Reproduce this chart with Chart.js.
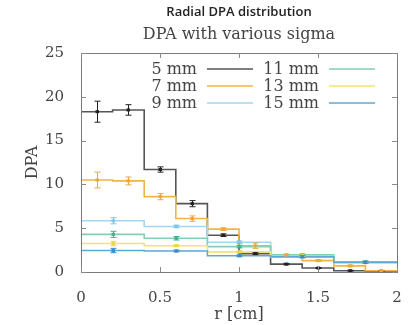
<!DOCTYPE html>
<html><head><meta charset="utf-8">
<script src="https://cdn.jsdelivr.net/npm/chart.js@4.4.1/dist/chart.umd.min.js"></script>
<style>html,body{margin:0;padding:0;background:#fff;}#wrap{width:408px;height:325px;}</style>
</head><body><div id="wrap"><canvas id="c" width="408" height="325"></canvas></div>
<script>
const chartTitle = 'Radial DPA distribution';
const chartSubtitle = 'DPA with various sigma';
const seriesNames = ['5 mm','7 mm','9 mm','11 mm','13 mm','15 mm'];
const binEdgesFine = [0,0.2,0.4,0.6,0.8,1.0,1.2,1.4,1.6,1.8,2.0];
const binEdgesCoarse = [0,0.4,0.8,1.2,1.6,2.0];
const dpa5 = [18.3,18.5,11.7,7.8,4.2,2.1,0.9,0.45,0.15,0.1];
const err5 = [1.2,0.6,0.3,0.35,0.15,0.1,0.08,0.05,0.05,0.05];
const dpa7 = [10.5,10.4,8.6,6.1,4.9,3.0,1.95,1.3,0.7,0.15];
const err7 = [0.9,0.45,0.35,0.3,0.15,0.3,0.1,0.1,0.1,0.05];
const dpa9 = [5.85,5.2,3.4,1.7,1.15];
const err9 = [0.35,0.15,0.15,0.1,0.1];
const dpa11 = [4.3,3.85,2.9,1.95,1.15];
const err11 = [0.35,0.2,0.15,0.1,0.1];
const dpa13 = [3.25,3.0,2.3,1.85,1.05];
const err13 = [0.25,0.1,0.1,0.1,0.1];
const dpa15 = [2.45,2.4,1.85,1.75,1.1];
const err15 = [0.25,0.1,0.1,0.1,0.1];
const xTicks = [0,0.5,1,1.5,2];
const yTicks = [0,5,10,15,20,25];

const lineColors = ['#555555','#f2b444','#a3d6f2','#82d0b4','#f3e470','#5ea8d8'];
const barColors  = ['#222222','#eea83a','#7fc4ea','#3fb48e','#e8d848','#3a8cc8'];

const allSeries = [
  {edges: binEdgesFine, vals: dpa5, errs: err5},
  {edges: binEdgesFine, vals: dpa7, errs: err7},
  {edges: binEdgesCoarse, vals: dpa9, errs: err9},
  {edges: binEdgesCoarse, vals: dpa11, errs: err11},
  {edges: binEdgesCoarse, vals: dpa13, errs: err13},
  {edges: binEdgesCoarse, vals: dpa15, errs: err15}
];

function stepPoints(edges, vals){
  const pts = vals.map((v,i)=>({x: edges[i], y: v}));
  pts.push({x: edges[edges.length-1], y: vals[vals.length-1]});
  return pts;
}

const datasets = allSeries.map((s,i)=>({
  label: seriesNames[i],
  data: stepPoints(s.edges, s.vals),
  borderColor: lineColors[i],
  borderWidth: 1.6,
  stepped: 'before',
  pointRadius: 0,
  fill: false
})).reverse();

const serif = "'DejaVu Serif', 'Liberation Serif', serif";
const textCol = '#444';

const extrasPlugin = {
  id: 'extras',
  afterDatasetsDraw(chart){
    const {ctx, chartArea: ca, scales:{x, y}} = chart;
    ctx.save();
    // error bars and points
    allSeries.forEach((s,i)=>{
      ctx.strokeStyle = barColors[i];
      ctx.fillStyle = barColors[i];
      ctx.lineWidth = 1;
      s.vals.forEach((v,k)=>{
        const c = (s.edges[k]+s.edges[k+1])/2;
        const px = Math.round(x.getPixelForValue(c))+0.5;
        const py = y.getPixelForValue(v);
        const pTop = y.getPixelForValue(v + s.errs[k]);
        const pBot = y.getPixelForValue(v - s.errs[k]);
        ctx.beginPath();
        ctx.moveTo(px, pTop); ctx.lineTo(px, pBot);
        ctx.moveTo(px-3, pTop); ctx.lineTo(px+3, pTop);
        ctx.moveTo(px-3, pBot); ctx.lineTo(px+3, pBot);
        ctx.stroke();
        ctx.fillRect(px-2, py-1.5, 3.5, 3);
      });
    });
    // frame
    ctx.strokeStyle = '#7a7a7a';
    ctx.lineWidth = 1;
    ctx.strokeRect(Math.round(ca.left)+0.5, Math.round(ca.top)+0.5, Math.round(ca.right-ca.left), Math.round(ca.bottom-ca.top));
    // inward ticks
    ctx.strokeStyle = '#8a8a8a';
    ctx.beginPath();
    xTicks.forEach(t=>{
      const px = Math.round(x.getPixelForValue(t))+0.5;
      ctx.moveTo(px, ca.bottom); ctx.lineTo(px, ca.bottom-5);
      ctx.moveTo(px, ca.top); ctx.lineTo(px, ca.top+5);
    });
    yTicks.forEach(t=>{
      const py = Math.round(y.getPixelForValue(t))+0.5;
      ctx.moveTo(ca.left, py); ctx.lineTo(ca.left+5, py);
      ctx.moveTo(ca.right, py); ctx.lineTo(ca.right-5, py);
    });
    ctx.stroke();
    // legend
    ctx.font = "16px " + serif;
    ctx.textBaseline = 'middle';
    ctx.textAlign = 'right';
    const rows = [ca.top+16, ca.top+33, ca.top+50];
    const cols = [{textR: ca.left+116, l0: ca.left+126, l1: ca.left+172},
                  {textR: ca.left+238, l0: ca.left+248, l1: ca.left+294}];
    seriesNames.forEach((n,i)=>{
      const col = cols[Math.floor(i/3)];
      const ry = rows[i%3];
      ctx.fillStyle = textCol;
      ctx.fillText(n, col.textR, ry+1);
      ctx.strokeStyle = lineColors[i];
      ctx.lineWidth = 1.6;
      ctx.beginPath();
      ctx.moveTo(col.l0, ry); ctx.lineTo(col.l1, ry);
      ctx.stroke();
    });
    // titles, centred over the plot area
    const cx = (ca.left + ca.right) / 2;
    ctx.textAlign = 'center';
    ctx.fillStyle = '#222';
    ctx.font = "600 13px 'Open Sans', 'Noto Sans', sans-serif";
    ctx.fillText(chartTitle, cx, 12);
    ctx.fillStyle = textCol;
    ctx.font = "16px " + serif;
    ctx.fillText(chartSubtitle, cx, 35);
    ctx.restore();
  }
};

new Chart(document.getElementById('c'), {
  type: 'line',
  data: { datasets },
  options: {
    responsive: false,
    animation: false,
    layout: { padding: { left: 0, right: 11, top: 53, bottom: 0 } },
    plugins: {
      legend: { display: false },
      tooltip: { enabled: false },
      title: { display: false },
      subtitle: { display: false }
    },
    scales: {
      x: {
        type: 'linear', min: 0, max: 2,
        afterFit(s){ s.height = 53; s.paddingLeft = 0; s.paddingRight = 0; },
        afterBuildTicks(s){ s.ticks = xTicks.map(v=>({value: v})); },
        grid: { display: false },
        border: { display: false },
        ticks: { color: textCol, font: { family: serif, size: 15 }, padding: 9, maxRotation: 0,
                 callback: v => String(v) },
        title: { display: true, text: 'r [cm]', color: textCol, font: { family: serif, size: 16 }, padding: { top: 0, bottom: 1 } }
      },
      y: {
        type: 'linear', min: 0, max: 25,
        afterFit(s){ s.width = 81; s.paddingTop = 0; s.paddingBottom = 0; },
        afterBuildTicks(s){ s.ticks = yTicks.map(v=>({value: v})); },
        grid: { display: false },
        border: { display: false },
        ticks: { color: textCol, font: { family: serif, size: 15 }, padding: 9, callback: v => String(v) },
        title: { display: true, text: 'DPA', color: textCol, font: { family: serif, size: 16 }, padding: { top: 23, bottom: 0 } }
      }
    }
  },
  plugins: [extrasPlugin]
});
</script></body></html>
